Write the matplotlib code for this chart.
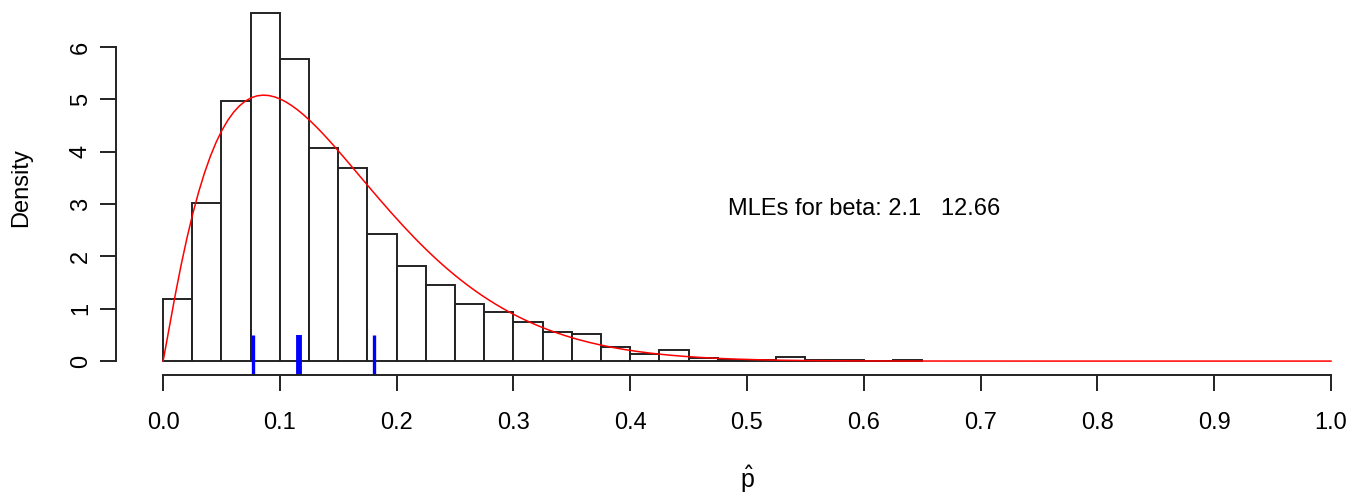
import math
import matplotlib
matplotlib.use("Agg")
import matplotlib.pyplot as plt
import numpy as np

# histogram of p-hat (density scale), breaks every 0.025 from 0 to 0.65
bin_width = 0.025
densities = [1.18, 3.02, 4.97, 6.65, 5.77, 4.07, 3.69, 2.43, 1.82, 1.45,
             1.10, 0.94, 0.75, 0.55, 0.52, 0.26, 0.14, 0.21, 0.05, 0.02,
             0.02, 0.07, 0.03, 0.03, 0.00, 0.03]
bin_left = np.arange(len(densities)) * bin_width

# fitted beta (MLEs shown in the plot)
shape1 = 2.1
shape2 = 12.66

# blue marks under the histogram
mark_x = [0.077, 0.1165, 0.181]
mark_lw = [2.4, 4.2, 2.4]

x_ticks = [0.0, 0.1, 0.2, 0.3, 0.4, 0.5, 0.6, 0.7, 0.8, 0.9, 1.0]
y_ticks = [0, 1, 2, 3, 4, 5, 6]


def dbeta(x, a, b):
    lb = math.lgamma(a) + math.lgamma(b) - math.lgamma(a + b)
    return np.exp((a - 1) * np.log(x) + (b - 1) * np.log1p(-x) - lb)


plt.rcParams['font.family'] = ['Liberation Sans', 'DejaVu Sans']
fs = 17

fig = plt.figure(figsize=(13.62, 4.96), dpi=100)
ax = fig.add_axes([116.3 / 1362, 121 / 496, 1261.4 / 1362, 0.7578])

ax.bar(bin_left, densities, width=bin_width, align='edge',
       facecolor='white', edgecolor='#222222', linewidth=1.4)

xs = np.linspace(0.0005, 0.9995, 201)
ax.plot(np.r_[0, xs, 1], np.r_[0, dbeta(xs, shape1, shape2), 0],
        color='red', linewidth=1.1)

ymax = max(densities)
ylo, yhi = -0.04 * ymax, 1.04 * ymax
for mx, lw in zip(mark_x, mark_lw):
    ax.plot([mx, mx], [ylo, 0.5], color='blue', linewidth=lw,
            solid_capstyle='butt', clip_on=False)

ax.text(0.6, 2.9, "MLEs for beta: 2.1   12.66", ha='center', va='center',
        fontsize=fs)

ax.set_xlim(-0.04, 1.04)
ax.set_ylim(ylo, yhi)

for s in ['top', 'right']:
    ax.spines[s].set_visible(False)
ax.spines['left'].set_bounds(0, 6)
ax.spines['bottom'].set_bounds(0, 1)
for s in ['left', 'bottom']:
    ax.spines[s].set_linewidth(1.4)
    ax.spines[s].set_color('#222222')

ax.set_xticks(x_ticks)
ax.set_xticklabels([f"{t:.1f}" for t in x_ticks])
ax.set_yticks(y_ticks)
ax.set_yticklabels([str(t) for t in y_ticks])
ax.tick_params(axis='both', length=11.5, width=1.4, color='#222222',
               labelsize=fs)
ax.tick_params(axis='x', pad=15)
ax.tick_params(axis='y', pad=6, labelrotation=90)
for lab in ax.get_yticklabels():
    lab.set_va('center')

fig.text(21 / 1362, 1 - 188 / 496, "Density", rotation=90,
         ha='center', va='center', fontsize=fs)
fig.text(747 / 1362, 1 - 479 / 496, r"$\hat{\mathregular{p}}$",
         ha='center', va='center', fontsize=fs + 1)

fig.savefig("out.png", dpi=100)
